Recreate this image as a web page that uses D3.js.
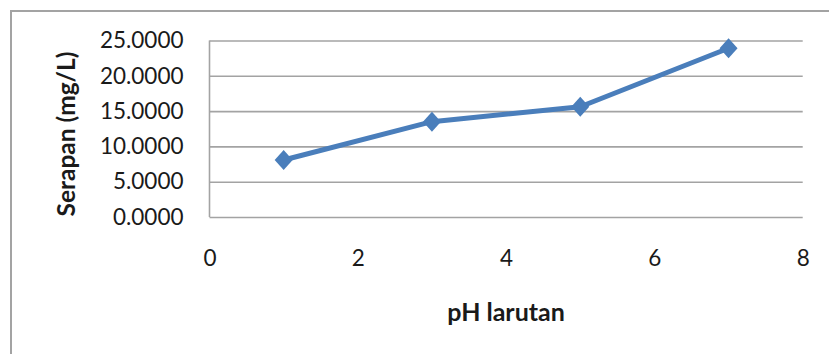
<!DOCTYPE html>
<html>
<head>
<meta charset="utf-8">
<script src="https://cdn.jsdelivr.net/npm/d3@7"></script>
<style>
  html, body { margin: 0; padding: 0; background: #fff; }
  svg { display: block; }
  text { font-family: Lato, "Open Sans", sans-serif; fill: #1a1a1a; }
</style>
</head>
<body>
<svg id="chart" width="829" height="354"></svg>
<script>
// pH of the solution and measured uptake (mg/L)
const phValues = [1, 3, 5, 7];
const serapan = [8.07, 13.5, 15.62, 23.9];
const xTicks = [0, 2, 4, 6, 8];
const yTicks = [0, 5, 10, 15, 20, 25];
const xTitle = "pH larutan";
const yTitle = "Serapan (mg/L)";

const svg = d3.select("#chart");
const W = 829, H = 354;
const plot = { left: 209.5, right: 802.7, top: 40.5, bottom: 217 };

// outer chart frame (extends past the viewport on the right and bottom)
svg.append("rect")
  .attr("x", 11).attr("y", 11)
  .attr("width", W + 20).attr("height", H + 20)
  .attr("fill", "#fff").attr("stroke", "#a3a3a3").attr("stroke-width", 2);

const x = d3.scaleLinear().domain([0, 8]).range([plot.left, plot.right]);
const y = d3.scaleLinear().domain([0, 25]).range([plot.bottom, plot.top]);

// horizontal gridlines with value labels
const yAxis = d3.axisLeft(y)
  .tickValues(yTicks)
  .tickFormat(d3.format(".4f"))
  .tickSize(-(plot.right - plot.left))
  .tickPadding(26);
const gy = svg.append("g").attr("transform", `translate(${plot.left},0)`).call(yAxis);
gy.select(".domain").remove();
gy.selectAll(".tick line").attr("stroke", "#a3a3a3").attr("stroke-width", 1.6);
gy.selectAll(".tick text")
  .attr("font-size", 22.5).attr("fill", "#1a1a1a")
  .style("font-family", "Lato, 'Open Sans', sans-serif");

// vertical axis line
svg.append("line")
  .attr("x1", plot.left).attr("x2", plot.left)
  .attr("y1", plot.top).attr("y2", plot.bottom)
  .attr("stroke", "#a3a3a3").attr("stroke-width", 1.6);

// horizontal axis labels (no axis line, Excel-style)
const xAxis = d3.axisBottom(x).tickValues(xTicks).tickSize(0).tickPadding(33);
const gx = svg.append("g").attr("transform", `translate(0,${plot.bottom})`).call(xAxis);
gx.select(".domain").remove();
gx.selectAll(".tick text")
  .attr("font-size", 22.5).attr("fill", "#1a1a1a")
  .style("font-family", "Lato, 'Open Sans', sans-serif");

// axis titles
svg.append("text")
  .attr("x", (plot.left + plot.right) / 2).attr("y", 321)
  .attr("text-anchor", "middle")
  .attr("font-size", 25).attr("font-weight", "bold")
  .text(xTitle);

svg.append("text")
  .attr("transform", `translate(75,134) rotate(-90)`)
  .attr("text-anchor", "middle")
  .attr("font-size", 24.5).attr("font-weight", "bold")
  .text(yTitle);

// data series
const pts = phValues.map((p, i) => ({ p, v: serapan[i] }));
const line = d3.line().x(d => x(d.p)).y(d => y(d.v));
svg.append("path")
  .datum(pts)
  .attr("d", line)
  .attr("fill", "none")
  .attr("stroke", "#4a7ebb")
  .attr("stroke-width", 5)
  .attr("stroke-linejoin", "round");

const diamond = "M0,-10L9,0L0,10L-9,0Z";
svg.selectAll(".marker")
  .data(pts)
  .join("path")
  .attr("class", "marker")
  .attr("transform", d => `translate(${x(d.p)},${y(d.v)})`)
  .attr("d", diamond)
  .attr("fill", "#4a7ebb");
</script>
</body>
</html>
